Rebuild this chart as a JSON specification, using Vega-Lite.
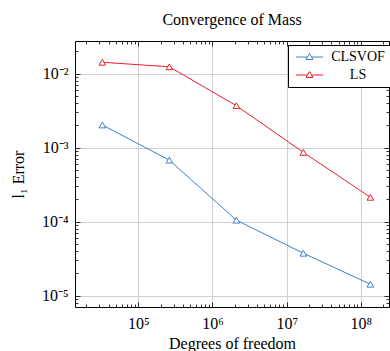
{
  "$schema": "https://vega.github.io/schema/vega-lite/v6.json",
  "width": 314,
  "height": 266,
  "autosize": "none",
  "padding": {"left": 75, "top": 41, "right": 1, "bottom": 44},
  "title": {"text": "Convergence of Mass", "fontSize": 16, "fontWeight": "normal", "font": "Liberation Serif", "color": "black", "anchor": "middle", "frame": "group", "baseline": "alphabetic", "offset": 0},
  "config": {
    "font": "Liberation Serif",
    "view": {"stroke": null},
    "axis": {"labelFont": "Liberation Serif", "labelFontSize": 16, "labelColor": "black", "titleFont": "Liberation Serif", "titleFontSize": 16, "titleFontWeight": "normal", "titleColor": "black", "tickColor": "black", "domainColor": "black", "domainWidth": 1, "tickWidth": 0.8, "labelFlush": false}
  },
  "data": {"values": [
    {"dof": 32768, "error": 0.00203, "method": "CLSVOF"},
    {"dof": 262144, "error": 0.00068, "method": "CLSVOF"},
    {"dof": 2097152, "error": 0.000105, "method": "CLSVOF"},
    {"dof": 16777216, "error": 0.0000375, "method": "CLSVOF"},
    {"dof": 134217728, "error": 0.0000143, "method": "CLSVOF"},
    {"dof": 32768, "error": 0.0143, "method": "LS"},
    {"dof": 262144, "error": 0.0124, "method": "LS"},
    {"dof": 2097152, "error": 0.0037, "method": "LS"},
    {"dof": 16777216, "error": 0.000865, "method": "LS"},
    {"dof": 134217728, "error": 0.000214, "method": "LS"}
  ]},
  "layer": [
    {
      "mark": {"type": "line", "strokeWidth": 1},
      "encoding": {
        "x": {"field": "dof", "type": "quantitative", "scale": {"type": "log", "domain": [14030, 239300000], "nice": false, "zero": false},
          "axis": {"orient": "bottom", "values": [100000, 1000000, 10000000, 100000000], "ticks": false, "domain": false, "grid": true, "gridColor": "#c4c4c4", "gridWidth": 0.8, "labelPadding": 8, "labelExpr": "'10' + replace(replace(replace(replace(replace(replace(replace(replace(''+round(log(datum.value)/LN10),'-','⁻'),'2','²'),'3','³'),'4','⁴'),'5','⁵'),'6','⁶'),'7','⁷'),'8','⁸')", "title": "Degrees of freedom", "titleY": 41, "titleBaseline": "alphabetic"}},
        "y": {"field": "error", "type": "quantitative", "scale": {"type": "log", "domain": [0.00000704, 0.0277], "nice": false, "zero": false},
          "axis": {"orient": "left", "values": [0.00001, 0.0001, 0.001, 0.01], "ticks": false, "domain": false, "grid": true, "gridColor": "#c4c4c4", "gridWidth": 0.8, "labelPadding": 7, "labelBaseline": "middle", "labelExpr": "'10' + replace(replace(replace(replace(replace(replace(replace(replace(''+round(log(datum.value)/LN10),'-','⁻'),'2','²'),'3','³'),'4','⁴'),'5','⁵'),'6','⁶'),'7','⁷'),'8','⁸')", "title": "l₁ Error", "titleX": -57, "titleY": 133, "titleAngle": 270, "titleBaseline": "middle"}},
        "color": {"field": "method", "type": "nominal", "scale": {"domain": ["CLSVOF", "LS"], "range": ["#4080c8", "#e8202a"]},
          "legend": {"title": null, "orient": "none", "legendX": 213, "legendY": 4, "padding": 5, "strokeColor": "black", "fillColor": "white", "labelFontSize": 14, "labelFont": "Liberation Serif", "labelColor": "black", "labelAlign": "center", "labelOffset": 51, "rowPadding": 4, "symbolSize": 64, "symbolStrokeWidth": 1, "symbolFillColor": "white", "symbolType": "M-1,0H1.86M2.89,0H5.75M1.5,0.625L2.375,-0.875L3.25,0.625Z"}}
      }
    },
    {
      "mark": {"type": "point", "shape": "triangle-up", "size": 45, "filled": false, "fill": "white", "strokeWidth": 1, "opacity": 1},
      "encoding": {
        "x": {"field": "dof", "type": "quantitative", "axis": null},
        "y": {"field": "error", "type": "quantitative", "axis": null},
        "color": {"field": "method", "type": "nominal"}
      }
    },
    {
      "mark": {"type": "point", "opacity": 0},
      "encoding": {
        "x": {"field": "dof", "type": "quantitative", "axis": {"orient": "bottom", "values": [100000, 1000000, 10000000, 100000000], "labels": false, "grid": false, "domain": true, "tickSize": -5, "title": null}},
        "y": {"field": "error", "type": "quantitative", "axis": {"orient": "left", "values": [0.00001, 0.0001, 0.001, 0.01], "labels": false, "grid": false, "domain": true, "tickSize": -5, "title": null}}
      }
    },
    {
      "mark": {"type": "point", "opacity": 0},
      "encoding": {
        "x": {"field": "dof", "type": "quantitative", "axis": {"orient": "top", "values": [100000, 1000000, 10000000, 100000000], "labels": false, "grid": false, "domain": true, "tickSize": -5, "title": null}},
        "y": {"field": "error", "type": "quantitative", "axis": {"orient": "right", "values": [0.00001, 0.0001, 0.001, 0.01], "labels": false, "grid": false, "domain": true, "tickSize": -5, "title": null}}
      }
    },
    {
      "mark": {"type": "point", "opacity": 0},
      "encoding": {
        "x": {"field": "dof", "type": "quantitative", "axis": {"orient": "bottom", "values": [20000, 30000, 40000, 50000, 60000, 70000, 80000, 90000, 200000, 300000, 400000, 500000, 600000, 700000, 800000, 900000, 2000000, 3000000, 4000000, 5000000, 6000000, 7000000, 8000000, 9000000, 20000000, 30000000, 40000000, 50000000, 60000000, 70000000, 80000000, 90000000, 200000000], "labels": false, "grid": false, "domain": false, "tickSize": -3, "title": null}},
        "y": {"field": "error", "type": "quantitative", "axis": {"orient": "left", "values": [0.000008, 0.000009, 0.00002, 0.00003, 0.00004, 0.00005, 0.00006, 0.00007, 0.00008, 0.00009, 0.0002, 0.0003, 0.0004, 0.0005, 0.0006, 0.0007, 0.0008, 0.0009, 0.002, 0.003, 0.004, 0.005, 0.006, 0.007, 0.008, 0.009, 0.02], "labels": false, "grid": false, "domain": false, "tickSize": -3, "title": null}}
      }
    },
    {
      "mark": {"type": "point", "opacity": 0},
      "encoding": {
        "x": {"field": "dof", "type": "quantitative", "axis": {"orient": "top", "values": [20000, 30000, 40000, 50000, 60000, 70000, 80000, 90000, 200000, 300000, 400000, 500000, 600000, 700000, 800000, 900000, 2000000, 3000000, 4000000, 5000000, 6000000, 7000000, 8000000, 9000000, 20000000, 30000000, 40000000, 50000000, 60000000, 70000000, 80000000, 90000000, 200000000], "labels": false, "grid": false, "domain": false, "tickSize": -3, "title": null}},
        "y": {"field": "error", "type": "quantitative", "axis": {"orient": "right", "values": [0.000008, 0.000009, 0.00002, 0.00003, 0.00004, 0.00005, 0.00006, 0.00007, 0.00008, 0.00009, 0.0002, 0.0003, 0.0004, 0.0005, 0.0006, 0.0007, 0.0008, 0.0009, 0.002, 0.003, 0.004, 0.005, 0.006, 0.007, 0.008, 0.009, 0.02], "labels": false, "grid": false, "domain": false, "tickSize": -3, "title": null}}
      }
    }
  ],
  "resolve": {"axis": {"x": "independent", "y": "independent"}}
}
